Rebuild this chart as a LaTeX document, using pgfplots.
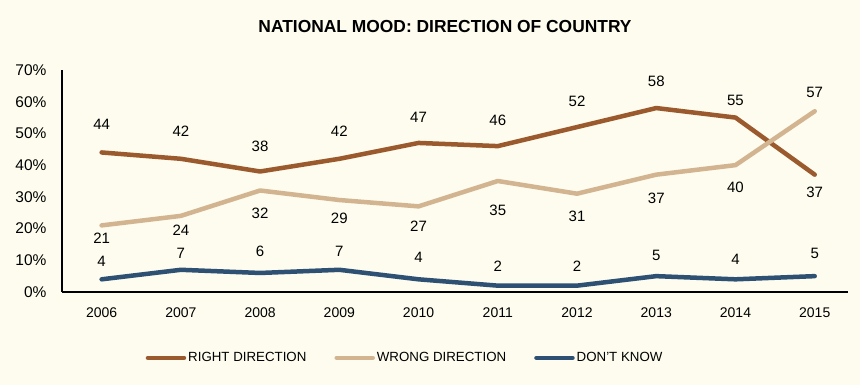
\documentclass[border=0pt]{standalone}
\usepackage{pgfplots}
\pgfplotsset{compat=1.18}
\usepackage{fontspec}
\setmainfont{Liberation Sans}
\definecolor{bg}{HTML}{FDFCEE}
\definecolor{rightc}{HTML}{9B5A2D}
\definecolor{wrongc}{HTML}{D2B491}
\definecolor{dkc}{HTML}{2D5073}
\pgfplotstableread{
x right wrong dk
2006 44 21 4
2007 42 24 7
2008 38 32 6
2009 42 29 7
2010 47 27 4
2011 46 35 2
2012 52 31 2
2013 58 37 5
2014 55 40 4
2015 37 57 5
}\data
\pgfplotstableread{
x y label
2006 53.0 44
2007 50.8 42
2008 46.0 38
2009 50.8 42
2010 55.2 47
2011 54.2 46
2012 60.2 52
2013 66.5 58
2014 60.5 55
2015 31.4 37
2006 17.0 21
2007 19.6 24
2008 24.9 32
2009 23.3 29
2010 20.8 27
2011 25.9 35
2012 23.7 31
2013 29.6 37
2014 33.1 40
2015 62.8 57
2006 9.8 4
2007 12.3 7
2008 12.9 6
2009 12.9 7
2010 11.0 4
2011 8.2 2
2012 8.2 2
2013 11.4 5
2014 10.4 4
2015 12.3 5
}\labels
\begin{document}
\begin{tikzpicture}
\fill[bg] (-62pt,-93pt) rectangle (798pt,292pt);
\path[use as bounding box] (-62pt,-93pt) rectangle (798pt,292pt);
\node[font=\fontsize{17.4}{20}\selectfont\bfseries] at (383pt,265pt) {NATIONAL MOOD: DIRECTION OF COUNTRY};
\begin{axis}[
  at={(0pt,0pt)}, anchor=origin,
  scale only axis, width=786pt, height=222pt,
  xmin=2005.5, xmax=2015.42, ymin=0, ymax=70,
  axis x line=bottom, axis y line=left,
  axis line style={-, line width=2.5pt, black},
  xtick=data, ytick={0,10,...,70},
  major tick length=0pt,
  /pgf/number format/assume math mode=true,
  /pgf/number format/1000 sep={},
  xticklabel style={font=\fontsize{14}{16}\selectfont, yshift=-12pt},
  yticklabel style={font=\fontsize{15.5}{17}\selectfont, xshift=-12pt},
  yticklabel={\pgfmathprintnumber{\tick}\%},
  clip=false,
  legend columns=3,
  legend style={at={(axis description cs:0.4365,-0.297)}, anchor=center, draw=none, fill=none,
    font=\fontsize{13.3}{15}\selectfont, /tikz/every even column/.append style={column sep=26pt},
    inner sep=0pt},
  legend image code/.code={\draw[#1, line width=4.5pt, line cap=round] (0pt,0pt) -- (36pt,0pt);},
]
\addplot[rightc, line width=4.5pt, line join=round, line cap=round] table[x=x,y=right] {\data};
\addlegendentry{RIGHT DIRECTION}
\addplot[wrongc, line width=4.5pt, line join=round, line cap=round] table[x=x,y=wrong] {\data};
\addlegendentry{WRONG DIRECTION}
\addplot[dkc, line width=4.5pt, line join=round, line cap=round] table[x=x,y=dk] {\data};
\addlegendentry{DON'T KNOW}
\addplot[draw=none, forget plot, nodes near coords, point meta=explicit symbolic,
  nodes near coords style={anchor=center, font=\fontsize{15}{17}\selectfont, text=black}]
  table[x=x, y=y, meta=label] {\labels};
\end{axis}
\end{tikzpicture}
\end{document}
